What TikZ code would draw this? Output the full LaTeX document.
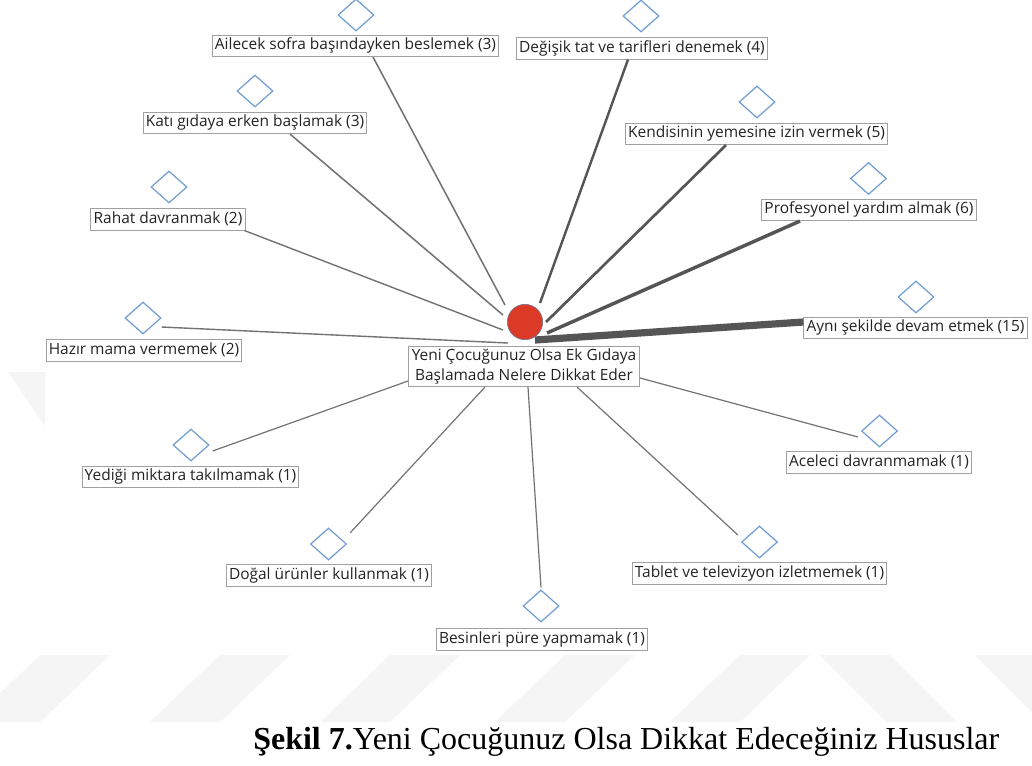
\documentclass[tikz,border=0pt]{standalone}
\usepackage{fontspec}
\setmainfont{Liberation Serif}
\newfontfamily\labelfont{Open Sans}
\usetikzlibrary{shapes.geometric}
\definecolor{hubred}{RGB}{219,58,38}
\definecolor{hubrim}{RGB}{120,120,150}
\definecolor{diablue}{RGB}{110,155,210}
\definecolor{boxgray}{RGB}{160,160,160}
\definecolor{linkgray}{RGB}{115,115,115}
\definecolor{linkdark}{RGB}{85,85,85}
\definecolor{textdark}{RGB}{35,35,35}
\definecolor{wmgray}{RGB}{245,245,245}
\begin{document}
\begin{tikzpicture}[x=0.75pt,y=-0.75pt,
  lab/.style={draw=boxgray, line width=0.7pt, fill=white, inner xsep=2pt, inner ysep=2.4pt,
    text height=8.4pt, text depth=2.7pt, text=textdark,
    font=\labelfont\fontsize{11.6}{13}\selectfont},
  cenbox/.style={draw=boxgray, line width=0.7pt, fill=white, align=center, inner xsep=2.5pt, inner ysep=1.5pt,
    text=textdark, font=\labelfont\fontsize{11.6}{15.5}\selectfont},
  dia/.style={diamond, draw=diablue, line width=0.9pt, inner sep=0pt, minimum width=27pt, minimum height=24pt},
  hubdot/.style={circle, fill=hubred, draw=hubrim, line width=0.5pt, minimum size=26.5pt, inner sep=0pt},
  link/.style={draw=linkgray, line width=0.9pt},
  linkB/.style={draw=linkgray, line width=1.05pt},
  linkC/.style={draw=linkgray, line width=1.15pt},
  linkD/.style={draw=linkdark, line width=1.8pt},
  linkE/.style={draw=linkdark, line width=2.0pt},
  linkF/.style={draw=linkdark, line width=2.6pt},
  linkG/.style={draw=linkdark, line width=5.4pt},
  wm/.style={fill=wmgray, draw=none}
]
% page
\useasboundingbox (0,0) rectangle (1032,765);
\fill[white] (0,0) rectangle (1032,765);

% faint background stripes around the figure
\begin{scope}
  \clip (0,655) rectangle (1032,765) (0,0) rectangle (45,655);
  \foreach \s in {-30,150,320,495,670} {
    \fill[wm] (\s+70,655) -- (\s+140,655) -- (\s+70,722) -- (\s,722) -- cycle;
  }
  \fill[wm] (820,655) -- (890,655) -- (957,722) -- (887,722) -- cycle;
  \fill[wm] (975,655) -- (1045,655) -- (1112,722) -- (1042,722) -- cycle;
  \fill[wm] (8,372) -- (45,372) -- (45,426) -- cycle;
\end{scope}

% centre
\node[hubdot] (hub) at (525,322) {};
\node[cenbox] (cen) at (524,366.5) {Yeni Çocuğunuz Olsa Ek Gıdaya\\Başlamada Nelere Dikkat Eder};

% diamonds
\node[dia] (dAile) at (356,15) {};
\node[dia] (dDegi) at (641,16) {};
\node[dia] (dKend) at (757,102) {};
\node[dia] (dProf) at (868.5,178.5) {};
\node[dia] (dAyni) at (916,297) {};
\node[dia] (dAcel) at (879.5,431) {};
\node[dia] (dTabl) at (759.5,542) {};
\node[dia] (dBesi) at (541,606) {};
\node[dia] (dDoga) at (328.5,544) {};
\node[dia] (dYedi) at (191,445) {};
\node[dia] (dHazi) at (143,318) {};
\node[dia] (dRaha) at (169,187) {};
\node[dia] (dKati) at (255,91) {};

% labels
\node[lab] (lAile) at (355.5,46) {Ailecek sofra başındayken beslemek (3)};
\node[lab] (lDegi) at (642,48.5) {Değişik tat ve tarifleri denemek (4)};
\node[lab] (lKend) at (756.5,134) {Kendisinin yemesine izin vermek (5)};
\node[lab] (lProf) at (869,210) {Profesyonel yardım almak (6)};
\node[lab] (lAyni) at (915.5,328) {Aynı şekilde devam etmek (15)};
\node[lab] (lAcel) at (879,462.5) {Aceleci davranmamak (1)};
\node[lab] (lTabl) at (759.5,573.5) {Tablet ve televizyon izletmemek (1)};
\node[lab] (lBesi) at (542,639.5) {Besinleri püre yapmamak (1)};
\node[lab] (lDoga) at (329,575.5) {Doğal ürünler kullanmak (1)};
\node[lab] (lYedi) at (190.5,477) {Yediği miktara takılmamak (1)};
\node[lab] (lHazi) at (144,350.5) {Hazır mama vermemek (2)};
\node[lab] (lRaha) at (168,219.5) {Rahat davranmak (2)};
\node[lab] (lKati) at (255,123) {Katı gıdaya erken başlamak (3)};

% connectors
\draw[linkC] ([shift={(-20,-17)}]hub.center) -- ([xshift=17.5*0.75pt]lAile.south);
\draw[linkD] ([shift={(15,-19)}]hub.center) -- ([xshift=-14*0.75pt]lDegi.south);
\draw[linkE] ([shift={(21,0)}]hub.center) -- ([xshift=-30.5*0.75pt]lKend.south);
\draw[linkF] ([shift={(22,11)}]hub.center) -- ([xshift=-69*0.75pt]lProf.south);
\draw[linkG] ([shift={(10,18)}]hub.center) -- ([yshift=6*0.75pt]lAyni.west);
\draw[linkC] ([shift={(-22,-7)}]hub.center) -- ([xshift=35*0.75pt]lKati.south);
\draw[linkB] ([shift={(-22,8)}]hub.center) -- ([xshift=-1*0.75pt]lRaha.south east);
\draw[linkB] ([shift={(-17,21)}]hub.center) -- ([yshift=-9*0.75pt]dHazi.east);
\draw[link] ([yshift=6*0.75pt]cen.south west) -- ([shift={(3,6)}]dYedi.east);
\draw[link] ([xshift=-39*0.75pt]cen.south) -- ([shift={(12.5,-3)}]dDoga.north east);
\draw[link] ([xshift=4*0.75pt]cen.south) -- ([yshift=2*0.75pt]dBesi.north);
\draw[link] ([xshift=53*0.75pt]cen.south) -- ([shift={(-3,-7)}]dTabl.west);
\draw[link] ([yshift=-11.5*0.75pt]cen.east) -- ([shift={(-3,6)}]dAcel.west);

% caption
\node[anchor=base west, inner sep=0pt, font=\fontsize{24}{28}\selectfont] (cap) at (253,749)
  {\textbf{Şekil 7.}Yeni Çocuğunuz Olsa Dikkat Edeceğiniz Hususlar};
\end{tikzpicture}
\end{document}
